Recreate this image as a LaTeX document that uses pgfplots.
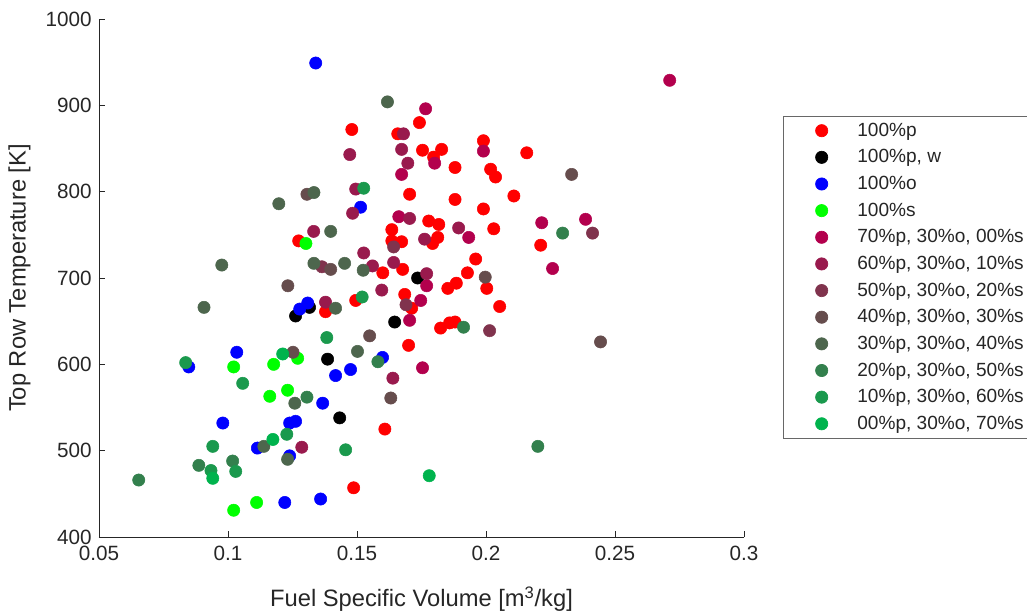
\documentclass[border=0pt]{standalone}
\usepackage{pgfplots}
\pgfplotsset{compat=1.18}
\usepackage{fontspec}
\setmainfont{Liberation Sans}
\definecolor{cA}{RGB}{255,0,0}
\definecolor{cB}{RGB}{0,0,0}
\definecolor{cC}{RGB}{0,0,255}
\definecolor{cD}{RGB}{0,255,0}
\definecolor{cE}{RGB}{179,0,77}
\definecolor{cF}{RGB}{153,26,77}
\definecolor{cG}{RGB}{128,51,77}
\definecolor{cH}{RGB}{102,77,77}
\definecolor{cI}{RGB}{77,102,77}
\definecolor{cJ}{RGB}{51,128,77}
\definecolor{cK}{RGB}{26,153,77}
\definecolor{cL}{RGB}{0,179,77}
\definecolor{axgray}{RGB}{38,38,38}
\begin{document}
\begin{tikzpicture}
\begin{axis}[
  at={(0pt,0pt)}, anchor=south west,
  scale only axis,
  width=483.75pt, height=388.5pt,
  xmin=0.05, xmax=0.3, ymin=400, ymax=1000,
  axis x line*=bottom, axis y line*=left,
  axis line style={axgray, line width=0.5pt},
  tick align=inside, major tick length=4.5pt,
  tick style={axgray, line width=0.5pt},
  xtick={0.05,0.1,0.15,0.2,0.25,0.3},
  xticklabels={0.05,0.1,0.15,0.2,0.25,0.3},
  ytick={400,500,600,700,800,900,1000},
  yticklabels={400,500,600,700,800,900,1000},
  /pgf/number format/assume math mode=true,
  ticklabel style={font=\fontsize{15.5}{18}\selectfont, text=axgray},
  xticklabel style={yshift=-3pt},
  yticklabel style={xshift=-2pt},
  xlabel={Fuel Specific Volume [m$^{\mathrm{3}}$/kg]},
  ylabel={Top Row Temperature [K]},
  label style={font=\fontsize{17.8}{20}\selectfont, text=axgray},
  xlabel style={yshift=-13pt},
  ylabel style={yshift=4.5pt},
  every axis plot/.append style={only marks, mark=*, mark size=4.6pt,
    legend image code/.code={\path (0pt,0pt) (38.5pt,0pt); \draw[##1] plot coordinates {(14pt,0pt)};}},
  legend style={at={(axis description cs:1.0605,0.8127)}, anchor=north west,
    draw=axgray!70, line width=0.5pt, fill=white,
    font=\fontsize{14.3}{16}\selectfont, text=axgray,
    inner xsep=14.5pt, inner ysep=3pt, row sep=4.5pt},
  legend cell align=left,
]
\addplot[cA, mark options={fill=cA, draw=cA}] coordinates {
(0.148,872) (0.1742,880) (0.1658,867) (0.199,859) (0.1754,848) (0.1828,849) (0.1797,840) (0.188,828)
(0.2158,845) (0.2018,826) (0.2037,817) (0.1704,797) (0.188,791) (0.2108,795) (0.199,780) (0.1778,766)
(0.1817,762) (0.203,757) (0.1813,747) (0.1793,740) (0.1673,742) (0.1635,743) (0.1635,756) (0.2212,738)
(0.196,722) (0.1677,710) (0.1928,706) (0.160,706) (0.1885,694) (0.1852,688) (0.2003,688) (0.1685,681)
(0.1712,665) (0.2053,667) (0.1274,743) (0.1495,674) (0.1378,661) (0.1824,642) (0.1859,648) (0.188,649)
(0.170,622) (0.1608,525) (0.1487,457)};
\addlegendentry{100\%p}
\addplot[cB, mark options={fill=cB, draw=cB}] coordinates {
(0.1735,700) (0.1262,656) (0.1316,666) (0.1386,606) (0.1646,649) (0.1433,538)};
\addlegendentry{100\%p, w}
\addplot[cC, mark options={fill=cC, draw=cC}] coordinates {
(0.134,949) (0.1514,782) (0.1309,671) (0.1278,664) (0.1034,614) (0.0848,597) (0.1417,587) (0.1475,594)
(0.1599,608) (0.1367,555) (0.098,532) (0.1262,534) (0.1239,532) (0.1114,503) (0.1239,494) (0.122,440)
(0.1359,444)};
\addlegendentry{100\%o}
\addplot[cD, mark options={fill=cD, draw=cD}] coordinates {
(0.1302,740) (0.1022,597) (0.1177,600) (0.127,607) (0.1162,563) (0.1231,570) (0.1022,431) (0.1111,440)};
\addlegendentry{100\%s}
\addplot[cE, mark options={fill=cE, draw=cE}] coordinates {
(0.2712,929) (0.1766,896) (0.199,847) (0.1801,833) (0.1673,820) (0.1662,771) (0.2216,764) (0.2386,768)
(0.1933,747) (0.2258,711) (0.177,691) (0.1747,674) (0.1704,651) (0.1754,596)};
\addlegendentry{70\%p, 30\%o, 00\%s}
\addplot[cF, mark options={fill=cF, draw=cF}] coordinates {
(0.1472,843) (0.168,867) (0.1673,849) (0.1697,833) (0.1495,803) (0.1483,775) (0.1704,769) (0.1332,754)
(0.1526,729) (0.156,714) (0.1642,718) (0.177,705) (0.1762,745) (0.1596,686) (0.1378,672) (0.1639,584)
(0.1286,504) (0.1894,758)};
\addlegendentry{60\%p, 30\%o, 10\%s}
\addplot[cG, mark options={fill=cG, draw=cG}] coordinates {
(0.2413,752) (0.2014,639) (0.1642,736) (0.169,669) (0.1364,713)};
\addlegendentry{50\%p, 30\%o, 20\%s}
\addplot[cH, mark options={fill=cH, draw=cH}] coordinates {
(0.2332,820) (0.2444,626) (0.1997,701) (0.1306,797) (0.1398,710) (0.1232,691) (0.1549,633) (0.1631,561)
(0.1252,614)};
\addlegendentry{40\%p, 30\%o, 30\%s}
\addplot[cI, mark options={fill=cI, draw=cI}] coordinates {
(0.1618,904) (0.1333,799) (0.1197,786) (0.1398,754) (0.0976,715) (0.1333,717) (0.1452,717) (0.1524,709)
(0.0907,666) (0.1417,665) (0.1502,615) (0.1259,555) (0.1139,505) (0.1231,490)};
\addlegendentry{30\%p, 30\%o, 40\%s}
\addplot[cJ, mark options={fill=cJ, draw=cJ}] coordinates {
(0.2201,505) (0.1913,643) (0.2297,752) (0.1581,603) (0.1306,562) (0.0654,466) (0.0887,483) (0.1018,488)};
\addlegendentry{20\%p, 30\%o, 50\%s}
\addplot[cK, mark options={fill=cK, draw=cK}] coordinates {
(0.152,678) (0.1526,804) (0.0836,602) (0.1057,578) (0.1383,631) (0.1456,501) (0.1228,519) (0.0941,505)
(0.103,476) (0.0934,477)};
\addlegendentry{10\%p, 30\%o, 60\%s}
\addplot[cL, mark options={fill=cL, draw=cL}] coordinates {
(0.178,471) (0.1174,513) (0.0941,468) (0.1212,612)};
\addlegendentry{00\%p, 30\%o, 70\%s}
\end{axis}
\pgfresetboundingbox
\path (-74.25pt,-56.25pt) rectangle (696pt,402.75pt);
\end{tikzpicture}
\end{document}
